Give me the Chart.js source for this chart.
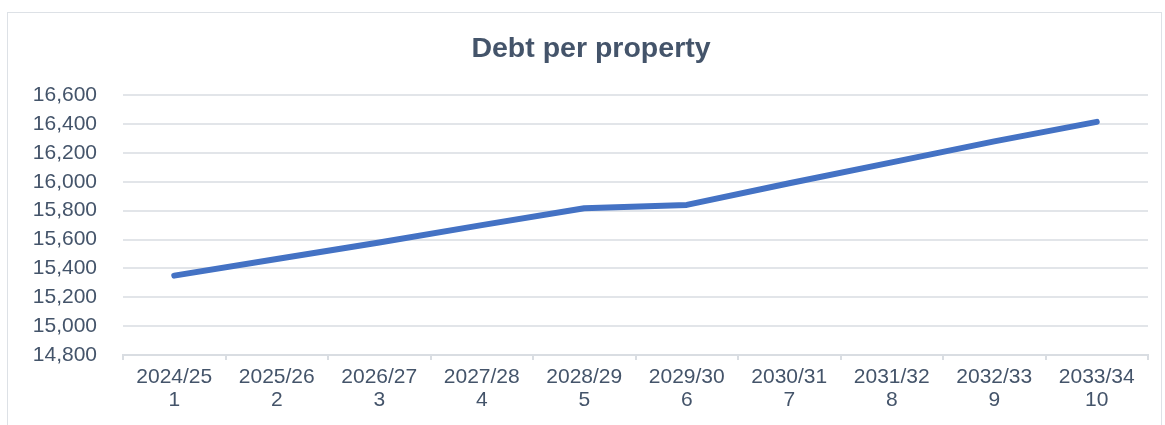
<!DOCTYPE html>
<html>
<head>
<meta charset="utf-8">
<script src="https://cdn.jsdelivr.net/npm/chart.js@4/dist/chart.umd.min.js"></script>
<style>
  html, body { margin: 0; padding: 0; background: #ffffff; }
  #wrap { position: relative; width: 1165px; height: 425px; overflow: hidden; }
  #frame {
    position: absolute; left: 7px; top: 12px; width: 1155px; height: 440px;
    border: 1.5px solid #dde1e6; box-sizing: border-box;
  }
  canvas { position: absolute; left: 0; top: 0; }
</style>
</head>
<body>
<div id="wrap">
  <div id="frame"></div>
  <canvas id="chart" width="1165" height="425"></canvas>
</div>
<script>
// Financial years and plan year numbers shown on the x axis
const years = ['2024/25', '2025/26', '2026/27', '2027/28', '2028/29',
               '2029/30', '2030/31', '2031/32', '2032/33', '2033/34'];
const yearNumbers = ['1', '2', '3', '4', '5', '6', '7', '8', '9', '10'];

// Debt per property (GBP)
const debtPerProperty = [15350, 15465, 15580, 15700, 15817,
                         15840, 15990, 16135, 16280, 16415];

// Value axis range and step
const yMin = 14800;
const yMax = 16600;
const yStep = 200;

const labels = years.map((y, i) => [y, yearNumbers[i]]);
const textColor = '#44546A';
const gridColor = '#e2e5e9';
const fontFamily = '"Liberation Sans", Arial, sans-serif';

new Chart(document.getElementById('chart'), {
  type: 'line',
  data: {
    labels: labels,
    datasets: [{
      label: 'Debt per property',
      data: debtPerProperty,
      borderColor: '#4472C4',
      backgroundColor: '#4472C4',
      borderWidth: 6,
      borderCapStyle: 'round',
      borderJoinStyle: 'round',
      pointRadius: 0,
      pointHoverRadius: 0,
      tension: 0
    }]
  },
  options: {
    responsive: false,
    animation: false,
    locale: 'en-GB',
    layout: { padding: { left: 34, right: 17, top: 0, bottom: 0 } },
    plugins: {
      legend: { display: false },
      tooltip: { enabled: false },
      title: {
        display: true,
        text: 'Debt per property',
        color: textColor,
        font: { family: fontFamily, size: 28.5, weight: 'bold', lineHeight: 1.2 },
        padding: { top: 32, bottom: 29 }
      }
    },
    scales: {
      x: {
        offset: true,
        grid: {
          offset: true,
          drawOnChartArea: false,
          drawTicks: true,
          tickLength: 5,
          color: '#d9dde2',
          lineWidth: 2
        },
        border: { display: true, color: '#d9dde2', width: 2 },
        ticks: {
          autoSkip: false,
          maxRotation: 0,
          minRotation: 0,
          padding: 6,
          color: textColor,
          font: { family: fontFamily, size: 21, lineHeight: 1.1 }
        },
        afterFit: (scale) => { scale.height = 70; }
      },
      y: {
        type: 'linear',
        min: yMin,
        max: yMax,
        grid: {
          drawTicks: false,
          color: gridColor,
          lineWidth: 2
        },
        border: { display: false },
        ticks: {
          stepSize: yStep,
          padding: 26,
          color: textColor,
          font: { family: fontFamily, size: 21 },
          format: { style: 'currency', currency: 'GBP', minimumFractionDigits: 0, maximumFractionDigits: 0 }
        },
        afterFit: (scale) => { scale.width = 89; }
      }
    }
  }
});
</script>
</body>
</html>
